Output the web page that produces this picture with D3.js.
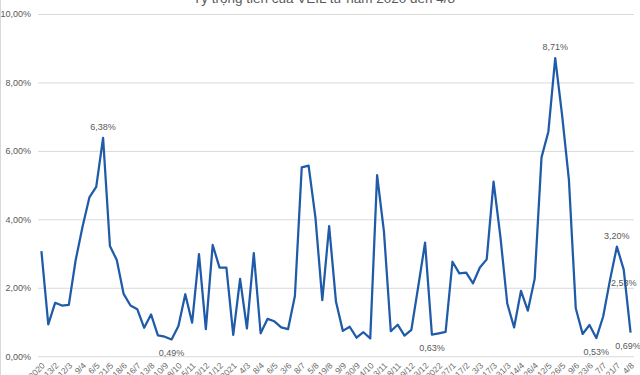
<!DOCTYPE html>
<html><head><meta charset="utf-8">
<script src="https://cdn.jsdelivr.net/npm/d3@7"></script>
<style>
html,body{margin:0;padding:0;background:#fff;overflow:hidden;}
svg{display:block;}
</style></head>
<body><svg id="c" width="640" height="375"></svg>
<script>
const title = "Tỷ trọng tiền của VEIL từ năm 2020 đến 4/8";
const dates = [
 "16/1/2020","30/1","13/2","27/2","12/3","26/3","9/4","23/4","6/5","14/5",
 "21/5","4/6","18/6","2/7","16/7","30/7","13/8","27/8","10/9","24/9",
 "8/10","22/10","5/11","19/11","3/12","17/12","31/12","14/1","28/1/2021","18/2",
 "4/3","18/3","8/4","22/4","6/5","20/5","3/6","17/6","8/7","22/7",
 "5/8","12/8","19/8","26/8","9/9","16/9","30/9","7/10","14/10","21/10",
 "3/11","10/11","18/11","25/11","9/12","16/12","23/12","30/12","13/1/2022","20/1",
 "27/1","10/2","17/2","24/2","3/3","10/3","17/3","24/3","31/3","7/4",
 "14/4","21/4","26/4","5/5","12/5","19/5","26/5","2/6","9/6","16/6",
 "23/6","30/6","7/7","14/7","21/7","28/7","4/8"];
const cashShare = [
 3.07,0.93,1.56,1.48,1.50,2.81,3.78,4.64,4.95,6.38,
 3.22,2.81,1.82,1.48,1.37,0.83,1.22,0.61,0.57,0.49,
 0.88,1.81,0.98,2.98,0.79,3.25,2.59,2.59,0.62,2.26,
 0.81,3.01,0.67,1.09,1.02,0.84,0.79,1.76,5.52,5.57,
 4.05,1.64,3.80,1.59,0.74,0.86,0.54,0.70,0.52,5.29,
 3.64,0.73,0.92,0.60,0.77,2.03,3.32,0.63,0.67,0.71,
 2.76,2.42,2.44,2.13,2.59,2.83,5.10,3.49,1.54,0.84,
 1.91,1.33,2.26,5.81,6.56,8.71,7.05,5.15,1.40,0.65,
 0.91,0.53,1.16,2.23,3.20,2.53,0.69];
const yTicks = [0,2,4,6,8,10];
// labelled points: index and placement
const labelIdx = [9,19,57,75,81,84,85,86];
const labelPos = ["above","below","below","above","below","above","below","below"];

const svg = d3.select("#c");
const fmt = v => d3.format(".2f")(v).replace(".", ",") + "%";
const x = d3.scaleBand().domain(d3.range(dates.length)).range([38, 634]).padding(0);
const cx = i => x(i) + x.bandwidth()/2;
const y = d3.scaleLinear().domain([0,10]).range([356.2, 14]);

// border
svg.append("line").attr("x1",0.5).attr("x2",0.5).attr("y1",0).attr("y2",375).attr("stroke","#d9d9d9");

// title
svg.append("text").attr("x",324).attr("y",3).attr("text-anchor","middle")
  .attr("font-family","Liberation Sans, Arial, sans-serif").attr("font-size",13.5)
  .attr("fill","#595959").text(title);

// grid + y axis
const yAxis = d3.axisLeft(y).tickValues(yTicks).tickSize(-(634-38)).tickPadding(7)
  .tickFormat(v => d3.format(".2f")(v).replace(".", ",") + "%");
const gy = svg.append("g").attr("transform","translate(38,0)").call(yAxis);
gy.select(".domain").remove();
gy.selectAll(".tick line").attr("stroke","#d9d9d9").attr("stroke-width",1);
gy.selectAll(".tick text").attr("fill","#595959").attr("font-size",9)
  .attr("font-family","Liberation Sans, Arial, sans-serif");

// x axis labels (every other category)
const xAxis = d3.axisBottom(x).tickValues(d3.range(0, dates.length, 2)).tickSize(0).tickPadding(0)
  .tickFormat(i => dates[i]);
const gx = svg.append("g").attr("transform","translate(0,356.2)").call(xAxis);
gx.select(".domain").remove();
gx.selectAll(".tick text").attr("fill","#6b6b6b").attr("font-size",8.5)
  .attr("font-family","Liberation Sans, Arial, sans-serif")
  .attr("text-anchor","end").attr("dy",0).attr("y",0)
  .attr("transform","translate(4,10) rotate(-45)");

// line
const line = d3.line().x((d,i)=>cx(i)).y(d=>y(d));
svg.append("path").datum(cashShare).attr("d",line).attr("fill","none")
  .attr("stroke","#1f5ba8").attr("stroke-width",2.25).attr("stroke-linejoin","round");

// data labels
svg.append("g").selectAll("text").data(labelIdx).join("text")
  .attr("x", i => cx(i) - (i===86 ? 2.5 : 0))
  .attr("y", (i,k) => y(cashShare[i]) + (labelPos[k]==="above" ? -11 : 13.5))
  .attr("dy","0.35em").attr("text-anchor","middle")
  .attr("font-family","Liberation Sans, Arial, sans-serif").attr("font-size",9)
  .attr("fill","#595959").text(i => fmt(cashShare[i]));
</script></body></html>
